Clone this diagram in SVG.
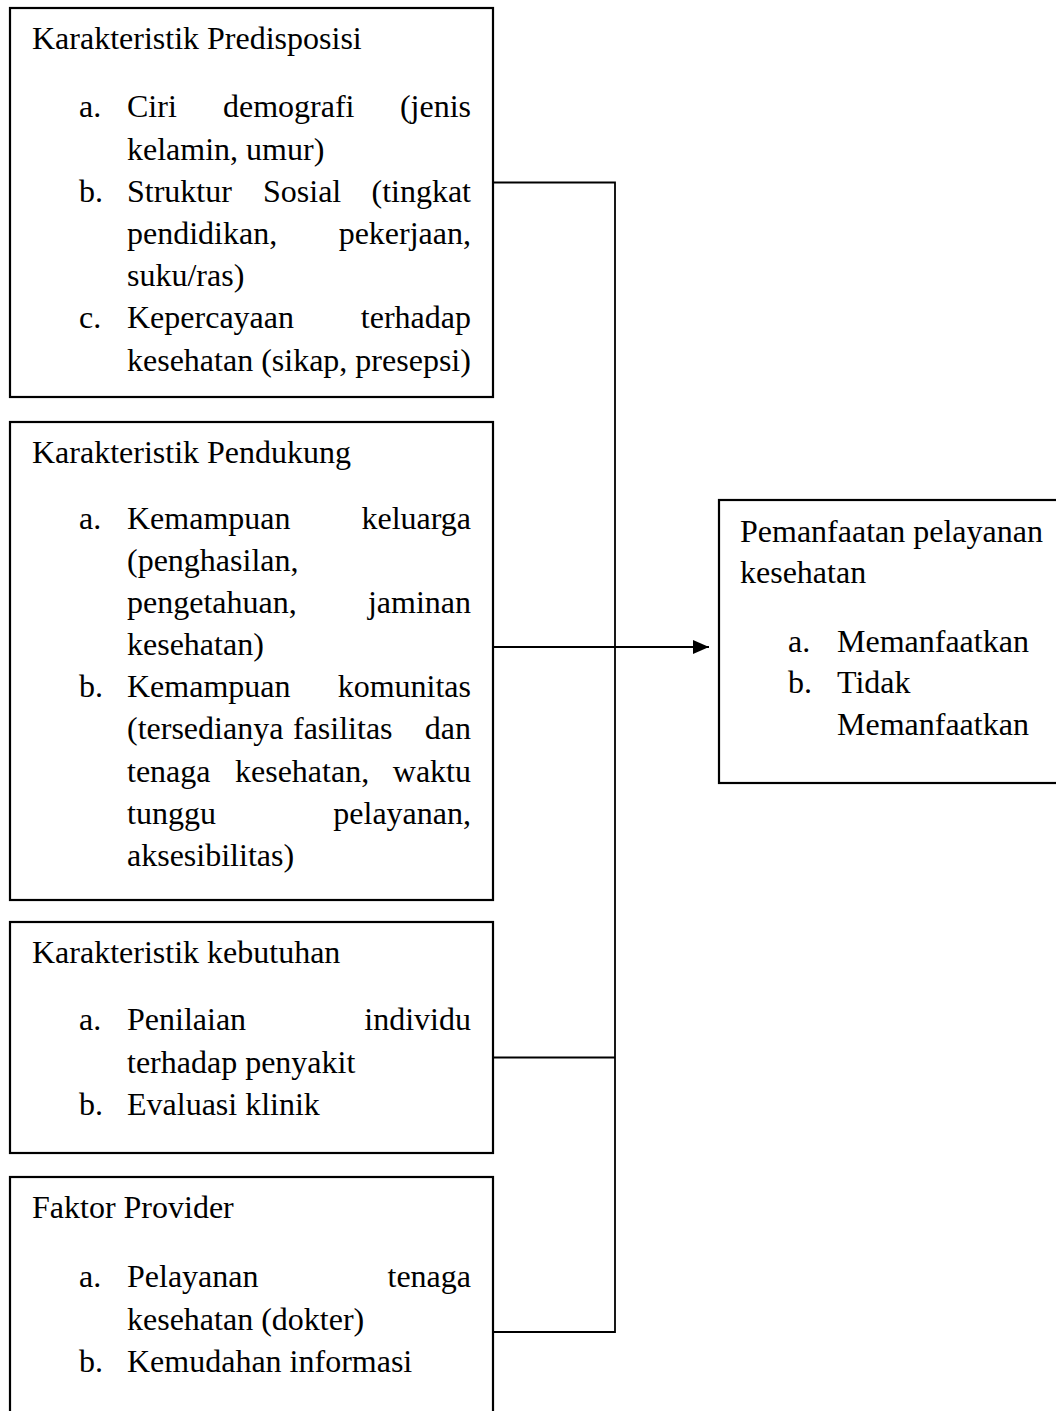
<svg xmlns="http://www.w3.org/2000/svg" width="1056" height="1411" viewBox="0 0 1056 1411">
<style>
  .box { fill: #ffffff; stroke: #000000; stroke-width: 2.2; }
  .conn { fill: none; stroke: #000000; stroke-width: 1.8; }
  text { font-family: "Liberation Serif", "Times New Roman", serif; font-size: 32px; fill: #000000; }
  .e { text-anchor: end; }
</style>
<defs>
  <marker id="arrow" markerUnits="userSpaceOnUse" markerWidth="16" markerHeight="14" refX="16" refY="7" orient="auto">
    <path d="M0,0 L16,7 L0,14 Z" fill="#000000"/>
  </marker>
</defs>
<rect width="1056" height="1411" fill="#ffffff"/>

<g id="connectors">
  <path class="conn" d="M493,182.5 H615 V1332 H493"/>
  <path class="conn" d="M493,1057.5 H615"/>
  <path class="conn" d="M493,647 H709" marker-end="url(#arrow)"/>
</g>

<g id="node-predisposisi">
  <rect class="box" x="10" y="8" width="483" height="389"/>
  <text x="32" y="49">Karakteristik Predisposisi</text>
  <text x="79" y="117">a.</text><text x="127" y="117">Ciri</text><text x="223" y="117">demografi</text><text class="e" x="471" y="117">(jenis</text>
  <text x="127" y="159.5">kelamin, umur)</text>
  <text x="79" y="202">b.</text><text x="127" y="202">Struktur</text><text x="263" y="202">Sosial</text><text class="e" x="471" y="202">(tingkat</text>
  <text x="127" y="244">pendidikan,</text><text class="e" x="471" y="244">pekerjaan,</text>
  <text x="127" y="286">suku/ras)</text>
  <text x="79" y="328">c.</text><text x="127" y="328">Kepercayaan</text><text class="e" x="471" y="328">terhadap</text>
  <text x="127" y="371">kesehatan (sikap, presepsi)</text>
</g>

<g id="node-pendukung">
  <rect class="box" x="10" y="422" width="483" height="478"/>
  <text x="32" y="463">Karakteristik Pendukung</text>
  <text x="79" y="529">a.</text><text x="127" y="529">Kemampuan</text><text class="e" x="471" y="529">keluarga</text>
  <text x="127" y="571">(penghasilan,</text>
  <text x="127" y="613">pengetahuan,</text><text class="e" x="471" y="613">jaminan</text>
  <text x="127" y="655">kesehatan)</text>
  <text x="79" y="697">b.</text><text x="127" y="697">Kemampuan</text><text class="e" x="471" y="697">komunitas</text>
  <text x="127" y="739">(tersedianya</text><text x="293" y="739">fasilitas</text><text class="e" x="471" y="739">dan</text>
  <text x="127" y="782">tenaga</text><text x="235" y="782">kesehatan,</text><text class="e" x="471" y="782">waktu</text>
  <text x="127" y="824">tunggu</text><text class="e" x="471" y="824">pelayanan,</text>
  <text x="127" y="866">aksesibilitas)</text>
</g>

<g id="node-kebutuhan">
  <rect class="box" x="10" y="922" width="483" height="231"/>
  <text x="32" y="963">Karakteristik kebutuhan</text>
  <text x="79" y="1030">a.</text><text x="127" y="1030">Penilaian</text><text class="e" x="471" y="1030">individu</text>
  <text x="127" y="1073">terhadap penyakit</text>
  <text x="79" y="1115">b.</text><text x="127" y="1115">Evaluasi klinik</text>
</g>

<g id="node-provider">
  <rect class="box" x="10" y="1177" width="483" height="250"/>
  <text x="32" y="1218">Faktor Provider</text>
  <text x="79" y="1287">a.</text><text x="127" y="1287">Pelayanan</text><text class="e" x="471" y="1287">tenaga</text>
  <text x="127" y="1330">kesehatan (dokter)</text>
  <text x="79" y="1372">b.</text><text x="127" y="1372">Kemudahan informasi</text>
</g>

<g id="node-pemanfaatan">
  <rect class="box" x="719" y="500" width="360" height="283"/>
  <text x="740" y="542">Pemanfaatan pelayanan</text>
  <text x="740" y="583">kesehatan</text>
  <text x="788" y="652">a.</text><text x="837" y="652">Memanfaatkan</text>
  <text x="788" y="693">b.</text><text x="837" y="693">Tidak</text>
  <text x="837" y="735">Memanfaatkan</text>
</g>
</svg>
